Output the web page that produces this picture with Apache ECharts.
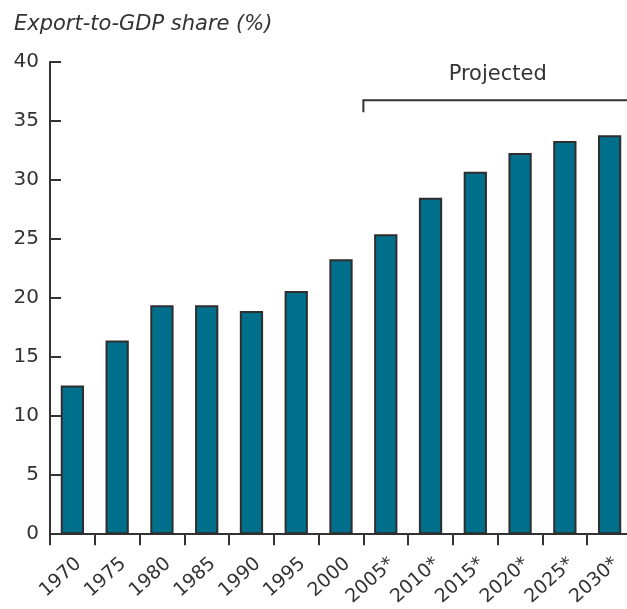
<!DOCTYPE html>
<html>
<head>
<meta charset="utf-8">
<script src="https://cdn.jsdelivr.net/npm/echarts@6/dist/echarts.min.js"></script>
<style>
html,body{margin:0;padding:0;background:#fff;overflow:hidden;}
#wrap{width:627px;height:609px;overflow:hidden;}
#chart{width:640px;height:609px;}
</style>
</head>
<body>
<div id="wrap"><div id="chart"></div></div>
<script>
var categories = ['1970','1975','1980','1985','1990','1995','2000','2005*','2010*','2015*','2020*','2025*','2030*'];
var exportShare = [12.6, 16.4, 19.4, 19.4, 18.9, 20.6, 23.3, 25.4, 28.5, 30.7, 32.3, 33.3, 33.8];
var yTicks = [0, 5, 10, 15, 20, 25, 30, 35, 40];
var yTitle = 'Export-to-GDP share (%)';
var projectedLabel = 'Projected';
var firstProjected = '2005*';

var chart = echarts.init(document.getElementById('chart'));
var font = '"DejaVu Sans", "Liberation Sans", Arial, sans-serif';
var option = {
  animation: false,
  backgroundColor: '#ffffff',
  textStyle: {fontFamily: font},
  grid: {left: 50, top: 62, height: 473, width: 582, containLabel: false},
  xAxis: {
    type: 'category',
    data: categories,
    boundaryGap: true,
    axisLine: {lineStyle: {color: '#333', width: 2}},
    axisTick: {show: true, inside: false, length: 11, lineStyle: {color: '#333', width: 2}},
    axisLabel: {rotate: 42, margin: 20, fontSize: 19, color: '#333', fontFamily: font, interval: 0, verticalAlign: 'top'}
  },
  yAxis: {
    type: 'value',
    min: yTicks[0],
    max: yTicks[yTicks.length - 1],
    interval: yTicks[1] - yTicks[0],
    splitLine: {show: false},
    axisLine: {show: true, lineStyle: {color: '#333', width: 2}},
    axisTick: {show: true, inside: true, length: 11, lineStyle: {color: '#333', width: 2}},
    axisLabel: {margin: 11, fontSize: 20, color: '#333', fontFamily: font}
  },
  series: [{
    type: 'bar',
    data: exportShare,
    barWidth: '52%',
    itemStyle: {color: '#006f8c', borderColor: '#2e2e2e', borderWidth: 2}
  }]
};
chart.setOption(option);

// Projected bracket, positioned from the axis scale
var idx = categories.indexOf(firstProjected);
var p0 = chart.convertToPixel({xAxisIndex: 0}, idx - 1);
var p1 = chart.convertToPixel({xAxisIndex: 0}, idx);
var step = p1 - p0;
var xStart = (p0 + p1) / 2;
var xEnd = chart.convertToPixel({xAxisIndex: 0}, categories.length - 1) + step / 2;
var yLine = chart.convertToPixel({yAxisIndex: 0}, 36.75);
chart.setOption({
  graphic: [{
    type: 'text',
    left: 14, top: 14,
    style: {text: yTitle, font: 'italic 21px ' + font, fill: '#333'}
  }, {
    type: 'polyline',
    shape: {points: [[xStart, yLine + 12], [xStart, yLine], [xEnd, yLine]]},
    style: {stroke: '#333', lineWidth: 2, fill: null}
  }, {
    type: 'text',
    x: (xStart + xEnd) / 2, y: yLine - 15,
    style: {text: projectedLabel, font: '21px ' + font, fill: '#333', align: 'center', verticalAlign: 'bottom'}
  }]
});
</script>
</body>
</html>
